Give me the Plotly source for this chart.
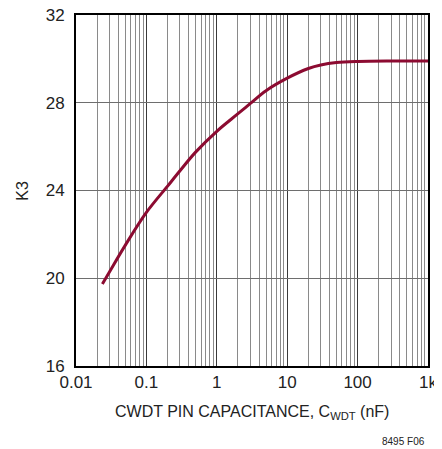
import plotly.graph_objects as go

# CWDT pin capacitance (nF) and K3
cap_nf = [0.0237, 0.03, 0.05, 0.1, 0.2, 0.3, 0.5, 1, 2, 3, 5, 10, 20, 30, 50, 100, 300, 1000]
k3 = [19.74, 20.3, 21.5, 23.0, 24.2, 24.9, 25.75, 26.7, 27.5, 27.97, 28.55, 29.12, 29.56, 29.72, 29.83, 29.88, 29.9, 29.9]

x_tickvals = [0.01, 0.1, 1, 10, 100, 1000]
x_ticktext = ["0.01", "0.1", "1", "10", "100", "1k"]
y_tickvals = [16, 20, 24, 28, 32]

FONT = "Liberation Sans, Arial, sans-serif"

fig = go.Figure()

fig.add_trace(
    go.Scatter(
        x=cap_nf,
        y=k3,
        mode="lines",
        line=dict(color="#8c0b31", width=3, shape="spline", smoothing=1.0),
        showlegend=False,
        hoverinfo="skip",
    )
)

# the page body adds an 8px margin, so the figure is shrunk by that much
fig.update_layout(
    width=434,
    height=441,
    margin=dict(l=68, r=14, t=7, b=83),
    paper_bgcolor="white",
    plot_bgcolor="white",
    font=dict(family=FONT, size=17, color="#222"),
    xaxis=dict(
        type="log",
        range=[-2, 3],
        tickvals=x_tickvals,
        ticktext=x_ticktext,
        showgrid=True,
        gridcolor="#3a3a3a",
        gridwidth=1,
        minor=dict(dtick="D1", showgrid=True, gridcolor="#8a8a8a", gridwidth=1),
        showline=True,
        linecolor="black",
        linewidth=2,
        mirror=True,
        ticks="",
        zeroline=False,
        automargin=False,
        ticklabeloverflow="allow",
    ),
    yaxis=dict(
        range=[16, 32],
        tickvals=y_tickvals,
        showgrid=True,
        gridcolor="#6e6e6e",
        gridwidth=1,
        showline=True,
        linecolor="black",
        linewidth=2,
        mirror=True,
        ticks="",
        ticklabelstandoff=6,
        zeroline=False,
        automargin=False,
        ticklabeloverflow="allow",
    ),
    annotations=[
        dict(
            text="K3",
            xref="paper", yref="paper",
            x=-0.153, y=0.5,
            xanchor="center", yanchor="middle",
            textangle=-90,
            showarrow=False,
            font=dict(size=16),
        ),
        dict(
            text="CWDT PIN CAPACITANCE, C<sub>WDT</sub> (nF)",
            xref="paper", yref="paper",
            x=0.5, y=-0.1,
            xanchor="center", yanchor="top",
            showarrow=False,
            font=dict(size=16),
        ),
        dict(
            text="8495 F06",
            xref="paper", yref="paper",
            x=0.997, y=-0.216,
            xanchor="right", yanchor="middle",
            showarrow=False,
            font=dict(size=10),
        ),
    ],
)

fig.write_html("out.html")
